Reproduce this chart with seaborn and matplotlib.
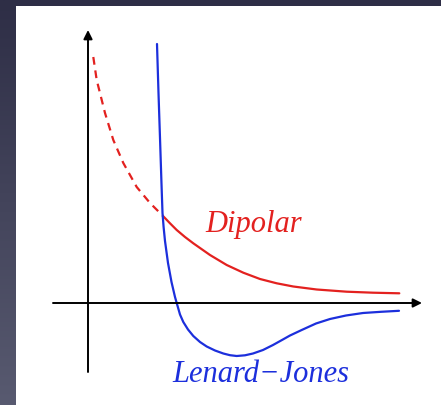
import numpy as np
import pandas as pd
import matplotlib
matplotlib.use("Agg")
import matplotlib.pyplot as plt
import seaborn as sns

sns.set_theme(style="white")
plt.rcParams["font.family"] = ["Liberation Serif", "DejaVu Serif"]

# Lennard-Jones potential, sampled along the curve (r, V)
lj_r = [0.690, 0.705, 0.720, 0.734, 0.745, 0.756, 0.770, 0.800, 0.835, 0.870, 0.887,
        0.920, 0.953, 1.000, 1.053, 1.120, 1.187, 1.270, 1.353, 1.420, 1.487, 1.570,
        1.650, 1.750, 1.850, 1.940, 2.020, 2.137, 2.280, 2.420, 2.580, 2.750, 2.930, 3.110]
lj_v = [2.59, 2.10, 1.65, 1.22, 0.90, 0.76, 0.62, 0.40, 0.21, 0.06, 0.00,
        -0.115, -0.19, -0.265, -0.33, -0.39, -0.435, -0.475, -0.505, -0.522, -0.53, -0.523,
        -0.505, -0.47, -0.42, -0.37, -0.325, -0.27, -0.205, -0.16, -0.125, -0.10, -0.088, -0.078]

# Dipolar interaction: dashed at short range, solid beyond the crossing
dip_short_r = [0.053, 0.087, 0.170, 0.253, 0.353, 0.487, 0.620, 0.750]
dip_short_v = [2.46, 2.23, 1.90, 1.63, 1.40, 1.16, 1.00, 0.87]
dip_long_r = [0.750, 0.820, 0.887, 0.970, 1.053, 1.220, 1.387, 1.553, 1.720, 1.887,
              2.053, 2.287, 2.587, 2.850, 3.113]
dip_long_v = [0.87, 0.797, 0.73, 0.66, 0.597, 0.48, 0.38, 0.303, 0.24, 0.197,
              0.165, 0.135, 0.113, 0.103, 0.097]

RED = "#e3211f"
BLUE = "#1c2fdc"

fig = plt.figure(figsize=(4.41, 4.05), dpi=100)

# Slide-style dark gradient behind the white panel
bg = fig.add_axes([0, 0, 1, 1])
grad = np.linspace(0, 1, 256)[:, None]
cmap = matplotlib.colors.LinearSegmentedColormap.from_list("slide", ["#2e2e46", "#585a70"])
bg.imshow(grad, aspect="auto", cmap=cmap, extent=[0, 1, 0, 1], origin="upper")
bg.set_axis_off()

ax = fig.add_axes([16 / 441, 0, 425 / 441, 399 / 405])
ax.set_facecolor("white")
ax.set_xlim(-0.72, 3.53)
ax.set_ylim(-1.02, 2.97)
for s in ax.spines.values():
    s.set_visible(False)
ax.set_xticks([])
ax.set_yticks([])

# Coordinate axes with arrowheads
arrow = dict(arrowstyle="-|>", lw=1.4, color="black", mutation_scale=13, shrinkA=0, shrinkB=0)
ax.annotate("", xy=(3.34, 0.0), xytext=(-0.35, 0.0), arrowprops=arrow)
ax.annotate("", xy=(0.0, 2.73), xytext=(0.0, -0.69), arrowprops=arrow)

sns.lineplot(x=dip_short_r, y=dip_short_v, ax=ax, color=RED, lw=1.6,
             linestyle=(0, (3.5, 2.6)), estimator=None, sort=False)
sns.lineplot(x=dip_long_r, y=dip_long_v, ax=ax, color=RED, lw=1.6,
             estimator=None, sort=False)
sns.lineplot(x=lj_r, y=lj_v, ax=ax, color=BLUE, lw=1.6,
             estimator=None, sort=False)

ax.text(1.17, 0.71, "Dipolar", color=RED, fontsize=22, fontstyle="italic",
        ha="left", va="baseline")
ax.text(0.84, -0.79, "Lenard\u2212Jones", color=BLUE, fontsize=22, fontstyle="italic",
        ha="left", va="baseline")

fig.savefig("out.png", dpi=100)
